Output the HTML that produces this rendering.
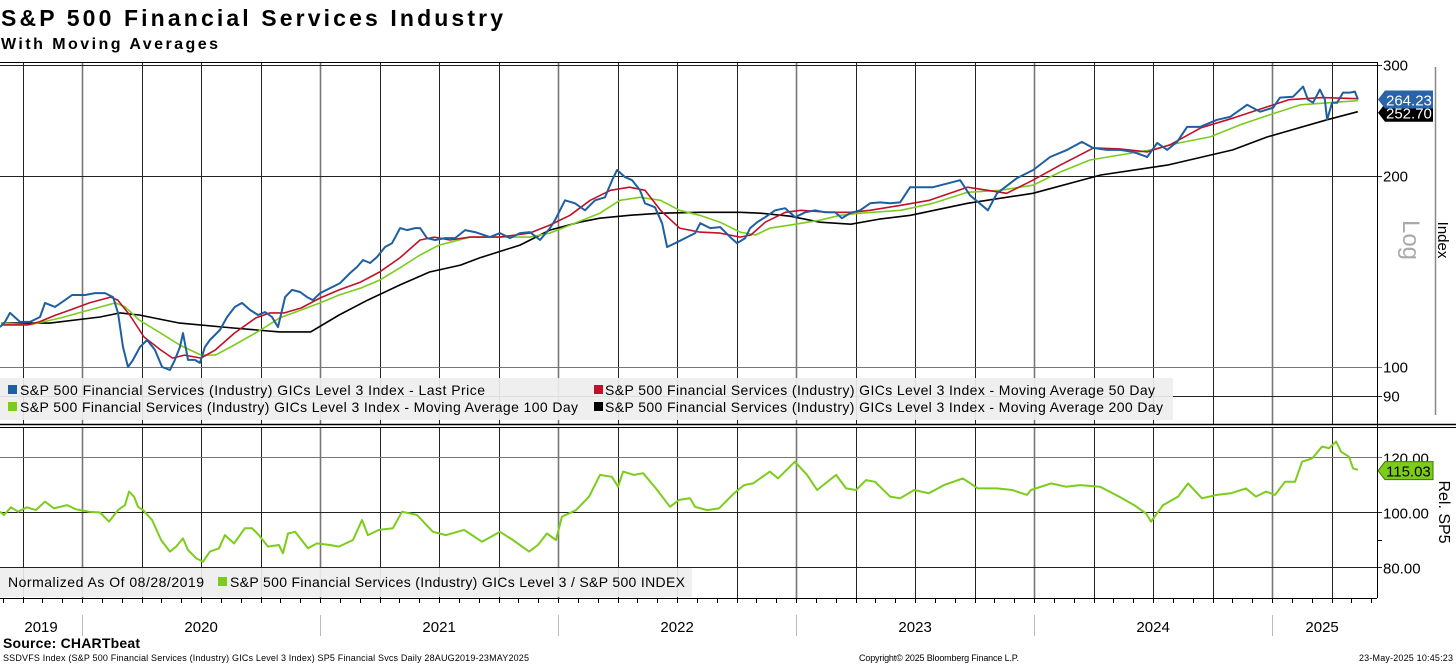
<!DOCTYPE html>
<html><head><meta charset="utf-8">
<style>
html,body{margin:0;padding:0;background:#fff;}
svg{display:block;font-family:"Liberation Sans",Tahoma,sans-serif;}
</style></head>
<body>
<svg id="chart" width="1456" height="665" viewBox="0 0 1456 665" xmlns="http://www.w3.org/2000/svg">
  <defs>
    <clipPath id="clipTop"><rect x="0" y="62" width="1377" height="362"/></clipPath>
    <clipPath id="clipBot"><rect x="0" y="429" width="1377" height="168"/></clipPath>
  </defs>
  <rect x="0" y="0" width="1456" height="665" fill="#fff"/>
  <text x="1" y="26" font-size="23" font-weight="bold" fill="#000" textLength="502">S&amp;P 500 Financial Services Industry</text>
  <text x="1" y="49" font-size="16" font-weight="bold" fill="#000" textLength="217">With Moving Averages</text>

  <g id="grid"></g>
  <g id="topSeries" clip-path="url(#clipTop)"></g>
  <g id="botSeries" clip-path="url(#clipBot)"></g>

  <g>
    <rect x="0" y="378" width="1173" height="42" fill="#eeeeee" fill-opacity="0.92"/>
    <rect x="8" y="385" width="9" height="9" fill="#1f5fa0"/>
    <text x="20" y="395" font-size="14" textLength="465">S&amp;P 500 Financial Services (Industry) GICs Level 3 Index - Last Price</text>
    <rect x="594" y="385" width="9" height="9" fill="#c0102a"/>
    <text x="605" y="395" font-size="14" textLength="550">S&amp;P 500 Financial Services (Industry) GICs Level 3 Index - Moving Average 50 Day</text>
    <rect x="8" y="402" width="9" height="9" fill="#7ccc1c"/>
    <text x="20" y="412" font-size="14" textLength="558">S&amp;P 500 Financial Services (Industry) GICs Level 3 Index - Moving Average 100 Day</text>
    <rect x="594" y="402" width="9" height="9" fill="#000"/>
    <text x="605" y="412" font-size="14" textLength="558">S&amp;P 500 Financial Services (Industry) GICs Level 3 Index - Moving Average 200 Day</text>
  </g>
  <g>
    <rect x="0" y="568" width="692" height="29" fill="#eeeeee" fill-opacity="0.92"/>
    <text x="8" y="587" font-size="14" textLength="196">Normalized As Of 08/28/2019</text>
    <rect x="218" y="577" width="9" height="9" fill="#7ccc1c"/>
    <text x="230" y="587" font-size="14" textLength="455">S&amp;P 500 Financial Services (Industry) GICs Level 3 / S&amp;P 500 INDEX</text>
  </g>

  <line x1="0" y1="424.5" x2="1456" y2="424.5" stroke="#000" stroke-width="1.5"/>
  <line x1="0" y1="427.5" x2="1456" y2="427.5" stroke="#000" stroke-width="1"/>
  <line x1="0" y1="62.5" x2="1377" y2="62.5" stroke="#000" stroke-width="1"/>
  <line x1="1377.5" y1="62" x2="1377.5" y2="598" stroke="#000" stroke-width="1"/>

  <g id="axes"></g>

  <line x1="1435.5" y1="67" x2="1435.5" y2="415" stroke="#888" stroke-width="1.5"/>
  <text transform="translate(1403,240) rotate(90)" font-size="24" fill="#aaa" text-anchor="middle">Log</text>
  <text transform="translate(1438,240) rotate(90)" font-size="15" fill="#000" text-anchor="middle">Index</text>
  <text transform="translate(1439,512) rotate(90)" font-size="16" fill="#000" text-anchor="middle">Rel. SP5</text>

  <g id="tags"></g>

  <text x="3" y="648" font-size="14" font-weight="bold" textLength="137">Source: CHARTbeat</text>
  <text x="3" y="661" font-size="9" textLength="526">SSDVFS Index (S&amp;P 500 Financial Services (Industry) GICs Level 3 Index) SP5 Financial Svcs  Daily 28AUG2019-23MAY2025</text>
  <text x="859" y="661" font-size="9" textLength="160">Copyright© 2025 Bloomberg Finance L.P.</text>
  <text x="1453" y="661" font-size="9" text-anchor="end" textLength="94">23-May-2025 10:45:23</text>
</svg>
<script>
const priceT=[2019.655,2019.676,2019.697,2019.739,2019.781,2019.823,2019.844,2019.886,2019.928,2019.958,2020.012,2020.054,2020.096,2020.130,2020.151,2020.172,2020.193,2020.214,2020.243,2020.273,2020.306,2020.336,2020.369,2020.390,2020.411,2020.424,2020.445,2020.474,2020.495,2020.516,2020.537,2020.579,2020.609,2020.642,2020.672,2020.706,2020.739,2020.769,2020.798,2020.823,2020.853,2020.882,2020.916,2020.945,2020.970,2021.000,2021.042,2021.084,2021.126,2021.155,2021.180,2021.210,2021.239,2021.273,2021.302,2021.336,2021.365,2021.399,2021.420,2021.449,2021.483,2021.525,2021.567,2021.609,2021.651,2021.714,2021.756,2021.798,2021.840,2021.882,2021.924,2021.966,2021.987,2022.029,2022.071,2022.113,2022.155,2022.197,2022.227,2022.248,2022.281,2022.311,2022.344,2022.365,2022.407,2022.437,2022.458,2022.492,2022.534,2022.576,2022.597,2022.639,2022.681,2022.723,2022.752,2022.786,2022.807,2022.836,2022.870,2022.912,2022.954,2022.996,2023.038,2023.080,2023.122,2023.164,2023.193,2023.227,2023.269,2023.311,2023.353,2023.395,2023.437,2023.479,2023.575,2023.689,2023.731,2023.806,2023.844,2023.928,2023.996,2024.067,2024.138,2024.201,2024.247,2024.306,2024.361,2024.416,2024.475,2024.517,2024.559,2024.601,2024.643,2024.697,2024.769,2024.824,2024.895,2024.950,2025.004,2025.033,2025.088,2025.130,2025.151,2025.172,2025.201,2025.222,2025.231,2025.252,2025.273,2025.298,2025.327,2025.348,2025.361];
const priceV=[115.6,117.8,121.7,117.8,117.8,119.9,126.2,124.4,127.5,129.9,129.9,130.8,130.8,128.9,121.7,107.5,100.0,102.6,107.5,110.3,106.4,100.0,98.9,102.6,107.5,113.1,102.6,102.6,101.5,107.5,110.3,114.4,119.9,124.4,126.2,123.0,120.8,122.1,119.9,115.6,128.9,132.3,131.3,128.9,127.5,130.8,133.2,135.6,140.7,143.8,147.5,145.9,149.1,154.6,156.8,165.6,164.4,165.6,165.6,159.7,158.6,159.7,159.7,164.4,163.2,160.3,162.6,159.7,162.6,163.2,158.6,165.6,170.4,183.2,181.2,176.7,183.2,185.2,197.1,204.5,199.3,197.1,190.0,181.2,178.6,168.6,154.6,156.8,159.7,162.6,168.6,165.6,166.2,160.3,156.8,159.7,165.6,169.2,172.3,176.7,178.0,172.3,175.4,176.7,175.4,175.4,171.7,174.8,176.7,181.2,181.8,181.2,181.8,192.1,192.1,197.1,186.5,176.7,187.9,198.6,204.5,214.4,220.0,226.5,221.6,220.0,220.0,218.4,214.4,225.7,220.0,226.5,239.2,239.2,245.4,248.1,259.2,252.7,256.4,266.0,266.9,276.9,264.0,261.1,273.9,264.0,245.4,261.1,261.1,270.9,270.9,271.9,264.2];
const ma50T=[2019.66,2019.77,2019.82,2019.89,2019.95,2020.03,2020.12,2020.15,2020.20,2020.26,2020.33,2020.38,2020.43,2020.50,2020.56,2020.64,2020.73,2020.79,2020.85,2020.92,2021.00,2021.08,2021.17,2021.25,2021.335,2021.42,2021.48,2021.545,2021.63,2021.755,2021.88,2021.965,2022.05,2022.135,2022.22,2022.30,2022.365,2022.43,2022.51,2022.595,2022.68,2022.765,2022.81,2022.87,2022.955,2023.02,2023.14,2023.23,2023.31,2023.44,2023.56,2023.72,2023.885,2023.995,2024.11,2024.25,2024.36,2024.475,2024.57,2024.70,2024.84,2024.98,2025.07,2025.21,2025.36];
const ma50V=[116.5,116.5,117.8,120.8,123.0,126.2,128.9,127.5,120.8,111.5,106.4,103.3,104.4,103.3,106.4,113.1,119.5,121.7,121.7,123.9,128.5,132.3,136.1,141.2,148.6,158.6,160.3,158.6,160.3,160.3,162.6,167.4,173.5,183.2,190.0,192.1,190.0,176.7,165.6,163.2,162.6,160.3,161.5,169.2,175.4,176.7,175.4,175.4,176.7,179.9,183.2,192.1,187.9,197.1,208.2,221.6,220.8,218.4,224.0,238.3,247.2,257.3,264.0,266.0,265.0];
const ma100T=[2019.66,2019.78,2019.91,2020.03,2020.14,2020.18,2020.24,2020.33,2020.41,2020.50,2020.56,2020.64,2020.75,2020.83,2020.92,2021.00,2021.08,2021.17,2021.25,2021.335,2021.42,2021.50,2021.63,2021.88,2021.965,2022.05,2022.175,2022.26,2022.345,2022.43,2022.51,2022.595,2022.68,2022.765,2022.83,2022.89,2022.975,2023.10,2023.185,2023.27,2023.44,2023.575,2023.72,2023.855,2023.995,2024.11,2024.235,2024.36,2024.49,2024.61,2024.74,2024.865,2024.99,2025.12,2025.24,2025.36];
const ma100V=[117.3,116.5,119.5,123.0,126.2,124.4,118.6,113.1,108.3,104.4,104.4,108.3,114.4,119.5,123.0,126.2,129.9,133.2,137.1,143.3,150.2,155.7,160.3,160.3,162.6,167.4,174.8,183.2,185.2,183.2,176.7,173.5,169.2,163.2,161.5,165.6,167.4,170.4,173.5,174.8,176.7,181.2,188.6,190.0,193.5,203.0,212.1,216.0,220.0,225.7,230.6,240.9,249.9,259.2,261.1,263.0];
const ma200T=[2019.66,2019.865,2020.075,2020.16,2020.24,2020.41,2020.635,2020.83,2020.96,2021.08,2021.20,2021.335,2021.46,2021.59,2021.67,2021.84,2021.965,2022.09,2022.175,2022.30,2022.43,2022.595,2022.765,2022.85,2022.975,2023.10,2023.23,2023.35,2023.48,2023.72,2023.995,2024.28,2024.56,2024.835,2024.98,2025.23,2025.36];
const ma200V=[117.3,117.3,119.9,121.7,120.8,117.3,115.2,113.6,113.6,120.8,127.5,134.7,141.2,144.8,148.6,155.7,164.4,169.2,171.7,173.5,174.8,175.4,175.4,174.8,172.9,169.2,168.0,171.1,173.5,181.2,187.9,200.8,208.2,220.0,230.6,245.4,252.7];
const relT=[2019.655,2019.672,2019.701,2019.731,2019.768,2019.806,2019.844,2019.882,2019.937,2019.974,2020.029,2020.075,2020.113,2020.151,2020.180,2020.197,2020.218,2020.235,2020.256,2020.294,2020.332,2020.369,2020.395,2020.424,2020.445,2020.479,2020.508,2020.537,2020.575,2020.600,2020.638,2020.684,2020.714,2020.743,2020.781,2020.827,2020.844,2020.865,2020.895,2020.949,2020.987,2021.042,2021.079,2021.138,2021.176,2021.201,2021.247,2021.306,2021.344,2021.407,2021.474,2021.529,2021.605,2021.680,2021.756,2021.810,2021.878,2021.915,2021.953,2021.991,2022.016,2022.075,2022.130,2022.176,2022.226,2022.252,2022.273,2022.319,2022.357,2022.411,2022.470,2022.508,2022.554,2022.575,2022.626,2022.676,2022.739,2022.781,2022.819,2022.890,2022.924,2022.995,2023.046,2023.088,2023.168,2023.210,2023.252,2023.294,2023.332,2023.395,2023.437,2023.496,2023.558,2023.621,2023.701,2023.764,2023.844,2023.907,2023.970,2023.987,2024.071,2024.134,2024.193,2024.277,2024.357,2024.420,2024.470,2024.491,2024.542,2024.605,2024.647,2024.705,2024.768,2024.827,2024.890,2024.932,2024.974,2025.012,2025.054,2025.096,2025.126,2025.168,2025.210,2025.239,2025.269,2025.290,2025.323,2025.340,2025.361];
const relV=[100.1,98.9,101.7,100.1,101.7,100.7,103.8,101.3,102.5,101.0,100.1,99.8,96.5,100.7,102.5,107.4,105.6,101.9,100.7,97.1,89.8,85.6,87.4,90.4,86.2,83.2,81.9,85.6,86.8,91.6,88.6,94.1,94.1,91.6,87.4,88.0,85.0,92.2,92.8,86.8,88.6,88.0,87.4,89.8,97.1,91.6,93.5,94.1,100.1,98.9,92.8,91.6,93.5,89.2,92.8,89.8,85.6,88.0,92.2,89.8,98.3,100.7,105.6,113.5,112.8,109.2,114.7,113.5,114.1,108.6,101.9,104.4,105.0,101.9,100.7,101.3,106.8,109.8,110.4,114.7,112.2,118.3,113.5,108.0,113.5,108.6,108.0,111.6,111.0,105.6,105.0,108.0,106.8,109.8,112.2,108.6,108.6,108.0,106.2,108.0,110.4,109.2,109.8,109.2,105.6,102.5,99.5,96.5,102.5,105.6,110.4,105.0,106.2,106.8,108.6,105.6,107.4,106.2,111.0,111.0,118.3,119.5,123.8,123.2,125.6,121.9,120.1,115.9,115.3];
const topTicks=[300,200,100,90];
const botTicks=[120,100,80];
const years=[2019,2020,2021,2022,2023,2024,2025];
const lastPrice=264.23, lastMa200=252.70, lastRel=115.03;

const T0=2019.655, PXY=238;
function xS(t){return (t-T0)*PXY;}
function yTop(v){return 367-634*Math.log10(v/100);}
function yBot(v){return 512-(v-100)*55/20;}
const NS="http://www.w3.org/2000/svg";
function mk(tag,attrs,parent){const e=document.createElementNS(NS,tag);for(const k in attrs)e.setAttribute(k,attrs[k]);parent.appendChild(e);return e;}
const gridG=document.getElementById('grid'), axesG=document.getElementById('axes');

for(let q=2019.75;q<2025.5;q+=0.25){
  const x=Math.round(xS(q))+0.5;
  const isYear=Math.abs(q-Math.round(q))<1e-6;
  const l1=mk('line',{x1:x,y1:62,x2:x,y2:424,stroke:isYear?'#777':'#222','stroke-width':isYear?1.6:1},gridG);
  
  
  const l2=mk('line',{x1:x,y1:428,x2:x,y2:598,stroke:isYear?'#777':'#222','stroke-width':isYear?1.6:1},gridG);
  
  
}
topTicks.forEach(v=>{
  const y=Math.round(yTop(v))+0.5;
  const l=mk('line',{x1:0,y1:y,x2:1382,y2:y,stroke:v===100?'#777':'#222','stroke-width':1},gridG);
  
  
  const t=mk('text',{x:1383,y:y+5,'font-size':15},axesG);t.textContent=String(v);
  
  
});
botTicks.forEach(v=>{
  const y=Math.round(yBot(v))+0.5;
  const l=mk('line',{x1:0,y1:y,x2:1382,y2:y,stroke:v===120?'#777':'#222','stroke-width':1},gridG);
  
  
  const t=mk('text',{x:1383,y:y+6,'font-size':15},axesG);t.textContent=v.toFixed(2);
  
  
});
const mt=mk('line',{x1:1377,y1:Math.round(yBot(90))+0.5,x2:1382,y2:Math.round(yBot(90))+0.5,stroke:'#000'},axesG);


for(let y=2019;y<=2025;y++){for(let m=0;m<12;m++){
  const t=y+m/12; if(t<T0||t>2025.42)continue;
  const x=Math.round(xS(t))+0.5;
  const tk=mk('line',{x1:x,y1:598,x2:x,y2:603,stroke:'#000'},axesG);
  
  
}}
const xl=mk('line',{x1:0,y1:598.5,x2:1377,y2:598.5,stroke:'#000'},axesG);


years.forEach(yr=>{
  const a=Math.max(yr,T0), b=Math.min(yr+1,2025.42);
  const cx=(xS(a)+xS(b))/2;
  const t=mk('text',{x:cx,y:632,'font-size':15,'text-anchor':'middle'},axesG);t.textContent=String(yr);
  
  
  if(yr>2019){const x=Math.round(xS(yr))+0.5;
    const s=mk('line',{x1:x,y1:615,x2:x,y2:636,stroke:'#bbb'},axesG);
    
    }
});

function pathD(T,V,yf){return T.map((t,i)=>(i?'L':'M')+xS(t).toFixed(1)+','+yf(V[i]).toFixed(1)).join('');}
const topG=document.getElementById('topSeries');
const p200=mk('path',{d:pathD(ma200T,ma200V,yTop),fill:'none',stroke:'#000','stroke-width':1.6,'stroke-linejoin':'round'},topG);


const p100=mk('path',{d:pathD(ma100T,ma100V,yTop),fill:'none',stroke:'#7ccc1c','stroke-width':1.6,'stroke-linejoin':'round'},topG);


const p50=mk('path',{d:pathD(ma50T,ma50V,yTop),fill:'none',stroke:'#c0102a','stroke-width':1.6,'stroke-linejoin':'round'},topG);


const pp=mk('path',{d:pathD(priceT,priceV,yTop),fill:'none',stroke:'#1f5fa0','stroke-width':2,'stroke-linejoin':'round'},topG);


const botG=document.getElementById('botSeries');
const pr=mk('path',{d:pathD(relT,relV,yBot),fill:'none',stroke:'#7ccc1c','stroke-width':2,'stroke-linejoin':'round'},botG);



const tagsG=document.getElementById('tags');
function tag(v,y,fill,txtCol,name){
  const g=mk('g',{},tagsG);
  
  
  mk('path',{d:`M1378,${y} L1385,${y-9} L1433,${y-9} L1433,${y+9} L1385,${y+9} Z`,fill:fill,stroke:fill==='#7ccc1c'?'#3a7a00':'none'},g);
  const t=mk('text',{x:1386,y:y+6,'font-size':15,fill:txtCol},g);t.textContent=v.toFixed(2);
}
tag(lastMa200,yTop(lastMa200)+1,'#000','#fff','ma200-value-tag');
tag(lastPrice,yTop(lastPrice),'#2a64a8','#fff','last-price-value-tag');
tag(lastRel,yBot(lastRel),'#7ccc1c','#000','relative-value-tag');
</script>
</body></html>
